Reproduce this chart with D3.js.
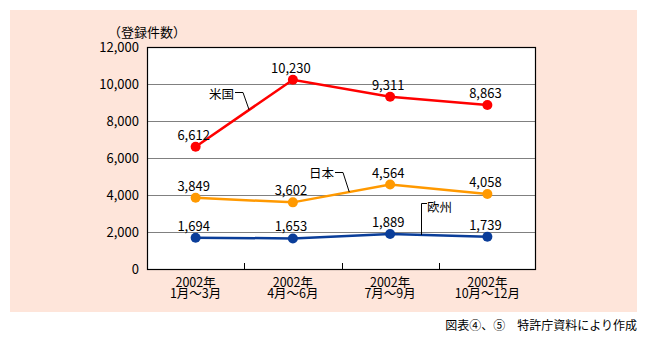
<!DOCTYPE html>
<html>
<head>
<meta charset="utf-8">
<script src="https://cdn.jsdelivr.net/npm/d3@7"></script>
<style>
  html, body { margin: 0; padding: 0; background: #ffffff; }
  svg { display: block; }
  text { font-family: "Noto Sans CJK JP", "Noto Sans", sans-serif; fill: #000; }
</style>
</head>
<body>
<svg id="chart" width="647" height="345"></svg>
<script>
// Quarterly patent registrations (件数) by region, 2002
const quarters = ["2002年\n1月～3月", "2002年\n4月～6月", "2002年\n7月～9月", "2002年\n10月～12月"];
const usValues = [6612, 10230, 9311, 8863];
const jpValues = [3849, 3602, 4564, 4058];
const euValues = [1694, 1653, 1889, 1739];
const yTicks = [0, 2000, 4000, 6000, 8000, 10000, 12000];
const seriesNames = ["米国", "日本", "欧州"];

const series = [
  { name: seriesNames[0], values: usValues, color: "#ff0000" },
  { name: seriesNames[1], values: jpValues, color: "#ff9900" },
  { name: seriesNames[2], values: euValues, color: "#0a3d99" }
];

const svg = d3.select("#chart");
const plot = { left: 147, right: 536, top: 47, bottom: 269 };

// panel background
svg.append("rect")
  .attr("x", 10).attr("y", 10).attr("width", 627).attr("height", 302)
  .attr("fill", "#fee5da");

const x = d3.scaleBand().domain(quarters).range([plot.left, plot.right]);
const y = d3.scaleLinear().domain([0, 12000]).range([plot.bottom, plot.top]);
const cx = q => x(q) + x.bandwidth() / 2;

// plot area
svg.append("rect")
  .attr("x", plot.left).attr("y", plot.top)
  .attr("width", plot.right - plot.left).attr("height", plot.bottom - plot.top)
  .attr("fill", "#ffffff");

// horizontal gridlines
svg.append("g")
  .selectAll("line")
  .data(yTicks.filter(t => t > 0 && t < 12000))
  .join("line")
  .attr("x1", plot.left).attr("x2", plot.right)
  .attr("y1", d => Math.round(y(d)) + 0.5).attr("y2", d => Math.round(y(d)) + 0.5)
  .attr("stroke", "#808080").attr("stroke-width", 1);

// y axis labels
const yAxis = d3.axisLeft(y).tickValues(yTicks).tickSize(0).tickPadding(8)
  .tickFormat(d3.format(","));
svg.append("g")
  .attr("transform", `translate(${plot.left},0)`)
  .call(yAxis)
  .call(g => g.select(".domain").remove())
  .call(g => g.selectAll("text").attr("font-size", 13).attr("fill", "#000"));

// x axis: inward ticks at band boundaries
svg.append("g")
  .selectAll("line")
  .data(quarters.slice(1))
  .join("line")
  .attr("x1", d => Math.round(x(d)) + 0.5).attr("x2", d => Math.round(x(d)) + 0.5)
  .attr("y1", plot.bottom).attr("y2", plot.bottom - 6)
  .attr("stroke", "#000");

// category labels (two lines)
svg.append("g")
  .selectAll("text")
  .data(quarters)
  .join("text")
  .attr("text-anchor", "middle")
  .attr("font-size", 12.5)
  .each(function(d) {
    const lines = d.split("\n");
    d3.select(this).selectAll("tspan")
      .data(lines)
      .join("tspan")
      .attr("x", cx(d))
      .attr("y", (l, i) => 286.5 + i * 11.5)
      .text(l => l);
  });

// plot frame
svg.append("rect")
  .attr("x", plot.left + 0.5).attr("y", plot.top + 0.5)
  .attr("width", plot.right - plot.left - 1).attr("height", plot.bottom - plot.top)
  .attr("fill", "none").attr("stroke", "#000").attr("stroke-width", 1.2);

// unit label
svg.append("text")
  .attr("x", 147).attr("y", 37)
  .attr("text-anchor", "middle")
  .attr("font-size", 13)
  .text("（登録件数）");

// series lines, markers and value labels
const line = d3.line()
  .x((v, i) => cx(quarters[i]))
  .y(v => y(v));

series.forEach(s => {
  const g = svg.append("g");
  g.append("path")
    .attr("d", line(s.values))
    .attr("fill", "none")
    .attr("stroke", s.color)
    .attr("stroke-width", 2.5);
  g.selectAll("circle")
    .data(s.values)
    .join("circle")
    .attr("cx", (v, i) => cx(quarters[i]))
    .attr("cy", v => y(v))
    .attr("r", 5)
    .attr("fill", s.color);
  g.selectAll("text")
    .data(s.values)
    .join("text")
    .attr("x", (v, i) => cx(quarters[i]) - 2)
    .attr("y", v => y(v) - 7)
    .attr("text-anchor", "middle")
    .attr("font-size", 13)
    .text(d3.format(","));
});

// series name callouts with leader lines
function callout(name, tx, ty, anchor, path) {
  svg.append("text")
    .attr("x", tx).attr("y", ty)
    .attr("text-anchor", anchor)
    .attr("font-size", 12.5)
    .text(name);
  svg.append("path")
    .attr("d", path)
    .attr("fill", "none")
    .attr("stroke", "#000")
    .attr("stroke-width", 1);
}

// 米国: leader from label down to the segment between Q1 and Q2
const usMid = [cx(quarters[0]) + 0.55 * x.bandwidth(), y(usValues[0] + 0.55 * (usValues[1] - usValues[0]))];
callout(seriesNames[0], 234, 99, "end",
  `M235,92.5 H243 L${usMid[0]},${usMid[1]}`);

// 日本: leader to the segment between Q2 and Q3
const jpMid = [cx(quarters[1]) + 0.58 * x.bandwidth(), y(jpValues[1] + 0.58 * (jpValues[2] - jpValues[1]))];
callout(seriesNames[1], 334, 178, "end",
  `M335,172.5 H343 L${jpMid[0]},${jpMid[1]}`);

// 欧州: vertical leader to the segment between Q3 and Q4
const euMid = [cx(quarters[2]) + 0.33 * x.bandwidth(), y(euValues[2] + 0.33 * (euValues[3] - euValues[2]))];
callout(seriesNames[2], 427, 212, "start",
  `M427,203.5 H421.5 V${euMid[1]}`);

// source note
svg.append("text")
  .attr("x", 637).attr("y", 330)
  .attr("text-anchor", "end")
  .attr("font-size", 12)
  .text("図表④、⑤　特許庁資料により作成");
</script>
</body>
</html>
